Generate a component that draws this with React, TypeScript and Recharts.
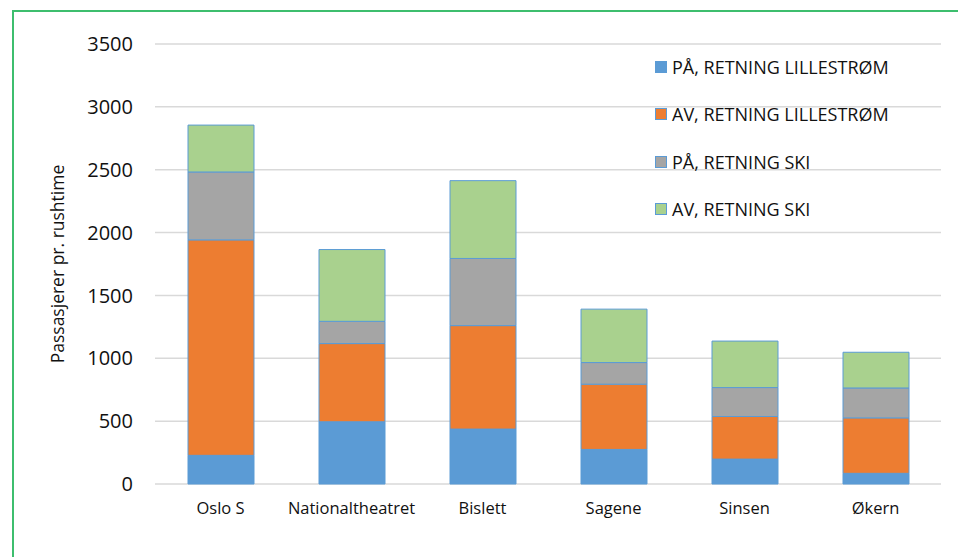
import { BarChart, Bar, XAxis, YAxis, CartesianGrid } from 'recharts'

const stations = ['Oslo S', 'Nationaltheatret', 'Bislett', 'Sagene', 'Sinsen', 'Økern']
const paLillestrom = [228, 495, 437, 275, 198, 85]
const avLillestrom = [1714, 622, 823, 519, 339, 441]
const paSki = [540, 177, 534, 172, 230, 238]
const avSki = [373, 571, 619, 425, 370, 284]
const yTicks = [0, 500, 1000, 1500, 2000, 2500, 3000, 3500]

const series = [
  { key: 'paLillestrom', name: 'PÅ, RETNING LILLESTRØM', color: '#5B9BD5' },
  { key: 'avLillestrom', name: 'AV, RETNING LILLESTRØM', color: '#ED7D31' },
  { key: 'paSki', name: 'PÅ, RETNING SKI', color: '#A5A5A5' },
  { key: 'avSki', name: 'AV, RETNING SKI', color: '#A9D18E' },
]

const data = stations.map((name, i) => ({
  name,
  paLillestrom: paLillestrom[i],
  avLillestrom: avLillestrom[i],
  paSki: paSki[i],
  avSki: avSki[i],
}))

const font = '"Open Sans", sans-serif'

// legend sits over the plot area like in the original, so it is kept outside the chart layout
function LegendBox() {
  return (
    <div
      style={{
        position: 'absolute',
        left: 655,
        top: 43,
        fontFamily: font,
        fontSize: 18,
        color: '#111',
        lineHeight: '20px',
      }}
    >
      {series.map((s) => (
        <div key={s.key} style={{ display: 'flex', alignItems: 'center', height: 47.5 }}>
          <span
            style={{
              display: 'inline-block',
              width: 10,
              height: 10,
              background: s.color,
              border: '1px solid #5B9BD5',
              marginRight: 5,
            }}
          />
          <span>{s.name}</span>
        </div>
      ))}
    </div>
  )
}

export default function App() {
  return (
    <div style={{ position: 'absolute', left: 0, top: 0, width: 958, height: 557, overflow: 'hidden', background: '#fff' }}>
      {/* only the top and left edges of the green frame are inside the picture */}
      <div
        style={{
          position: 'absolute',
          left: 12,
          top: 10,
          width: 0,
          height: 547,
          borderLeft: '2px solid #3DBE6E',
        }}
      />
      <div
        style={{
          position: 'absolute',
          left: 12,
          top: 10,
          width: 946,
          height: 0,
          borderTop: '2px solid #3DBE6E',
        }}
      />
      <div style={{ position: 'absolute', left: 0, top: 0 }}>
        <BarChart
          width={958}
          height={557}
          data={data}
          margin={{ top: 44, right: 17, bottom: 33, left: 0 }}
          barSize={66}
        >
          <CartesianGrid vertical={false} stroke="#D9D9D9" strokeWidth={1.5} />
          <XAxis
            dataKey="name"
            height={40}
            axisLine={false}
            tickLine={false}
            tick={{ fill: '#111', fontSize: 16.5, fontFamily: font }}
            tickMargin={12}
            interval={0}
          />
          <YAxis
            width={155}
            domain={[0, 3500]}
            ticks={yTicks}
            axisLine={false}
            tickLine={false}
            tickMargin={16}
            tick={{ fill: '#111', fontSize: 20, fontFamily: font }}
            label={{
              value: 'Passasjerer pr. rushtime',
              angle: -90,
              position: 'center',
              dx: -20,
              style: { fill: '#111', fontSize: 17.5, fontFamily: font },
            }}
          />
          {series.map((s) => (
            <Bar
              key={s.key}
              dataKey={s.key}
              name={s.name}
              stackId="a"
              fill={s.color}
              stroke="#5B9BD5"
              strokeWidth={1}
              isAnimationActive={false}
            />
          ))}
        </BarChart>
      </div>
      <LegendBox />
    </div>
  )
}
